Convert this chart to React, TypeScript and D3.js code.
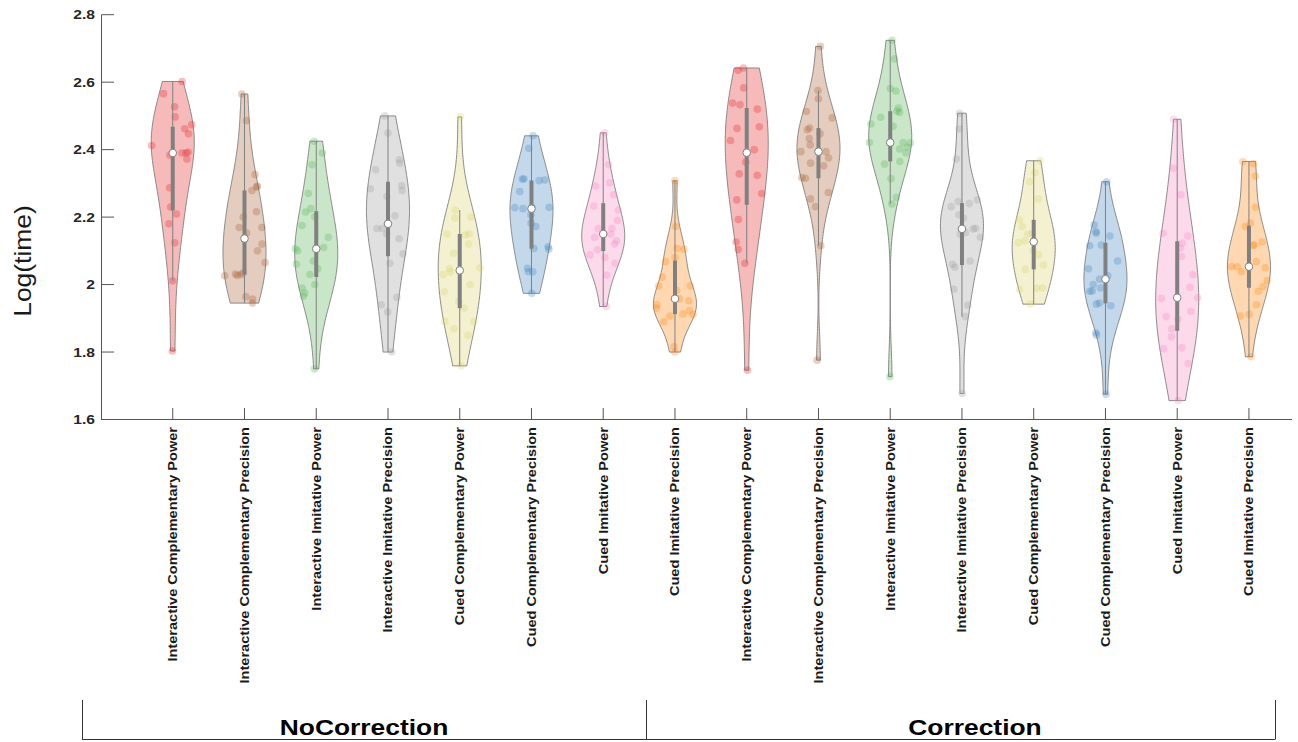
import React from 'react';
import * as d3 from 'd3';

// Condition names, repeated for each correction group along the x axis
const conditions = [
  'Interactive Complementary Power',
  'Interactive Complementary Precision',
  'Interactive Imitative Power',
  'Interactive Imitative Precision',
  'Cued Complementary Power',
  'Cued Complementary Precision',
  'Cued Imitative Power',
  'Cued Imitative Precision',
];
const groupNames = ['NoCorrection', 'Correction'];
const palette = ['#e41a1c', '#a65628', '#4daf4a', '#999999', '#d9d062', '#377eb8', '#f781bf', '#ff7f00'];
const yTickValues = [1.6, 1.8, 2.0, 2.2, 2.4, 2.6, 2.8];

// Log(time) samples, NoCorrection group
const ncIntCompPower = [2.602, 2.566, 2.527, 2.497, 2.474, 2.462, 2.447, 2.412, 2.393, 2.39, 2.39, 2.384, 2.372, 2.287, 2.23, 2.209, 2.18, 2.124, 2.011, 1.803];
const ncIntCompPrecision = [2.565, 2.486, 2.326, 2.292, 2.289, 2.279, 2.216, 2.2, 2.169, 2.169, 2.153, 2.12, 2.1, 2.065, 2.035, 2.031, 2.03, 2.027, 2.026, 1.964, 1.957, 1.945];
const ncIntImitPower = [2.425, 2.39, 2.355, 2.27, 2.225, 2.215, 2.2, 2.175, 2.14, 2.11, 2.106, 2.1, 2.07, 2.06, 2.047, 2.03, 2.0, 1.99, 1.975, 1.965, 1.75];
const ncIntImitPrecision = [2.5, 2.449, 2.37, 2.36, 2.34, 2.293, 2.284, 2.279, 2.261, 2.204, 2.18, 2.166, 2.166, 2.15, 2.136, 2.091, 2.063, 1.962, 1.94, 1.919, 1.8];
const ncCuedCompPower = [2.497, 2.221, 2.2, 2.197, 2.15, 2.15, 2.147, 2.12, 2.093, 2.05, 2.047, 2.037, 2.03, 2.0, 1.979, 1.95, 1.93, 1.89, 1.89, 1.869, 1.85, 1.759];
const ncCuedCompPrecision = [2.441, 2.404, 2.313, 2.313, 2.31, 2.308, 2.276, 2.229, 2.229, 2.228, 2.225, 2.207, 2.182, 2.172, 2.112, 2.107, 2.105, 2.048, 2.038, 2.038, 1.974];
const ncCuedImitPower = [2.45, 2.355, 2.302, 2.292, 2.266, 2.233, 2.221, 2.19, 2.166, 2.166, 2.15, 2.15, 2.14, 2.13, 2.12, 2.08, 2.103, 2.088, 2.063, 2.028, 1.935];
const ncCuedImitPrecision = [2.308, 2.172, 2.107, 2.105, 2.081, 2.068, 2.022, 1.996, 1.996, 1.982, 1.958, 1.952, 1.94, 1.93, 1.923, 1.913, 1.911, 1.907, 1.89, 1.816, 1.8];

// Log(time) samples, Correction group
const cIntCompPower = [2.642, 2.635, 2.583, 2.538, 2.533, 2.52, 2.468, 2.463, 2.427, 2.4, 2.391, 2.363, 2.328, 2.324, 2.27, 2.251, 2.193, 2.126, 2.104, 2.063, 1.746];
const cIntCompPrecision = [2.706, 2.575, 2.551, 2.513, 2.494, 2.464, 2.459, 2.447, 2.433, 2.414, 2.394, 2.394, 2.375, 2.36, 2.352, 2.317, 2.315, 2.273, 2.254, 2.231, 2.115, 1.776];
const cIntImitPower = [2.724, 2.669, 2.581, 2.574, 2.523, 2.514, 2.51, 2.496, 2.476, 2.469, 2.421, 2.421, 2.42, 2.407, 2.402, 2.39, 2.365, 2.357, 2.314, 2.259, 2.239, 1.727];
const cIntImitPrecision = [2.508, 2.461, 2.372, 2.251, 2.246, 2.24, 2.231, 2.207, 2.197, 2.167, 2.165, 2.154, 2.149, 2.14, 2.07, 2.06, 2.051, 1.986, 1.939, 1.905, 1.677];
const cCuedCompPower = [2.367, 2.332, 2.305, 2.254, 2.192, 2.172, 2.152, 2.15, 2.13, 2.124, 2.1, 2.088, 2.058, 2.045, 1.99, 1.989, 1.986, 1.942];
const cCuedCompPrecision = [2.305, 2.177, 2.157, 2.152, 2.144, 2.117, 2.115, 2.07, 2.047, 2.026, 2.016, 2.0, 1.99, 1.981, 1.98, 1.945, 1.942, 1.937, 1.857, 1.85, 1.675];
const cCuedImitPower = [2.49, 2.345, 2.266, 2.152, 2.144, 2.123, 2.108, 2.083, 2.029, 1.992, 1.961, 1.959, 1.921, 1.905, 1.897, 1.869, 1.845, 1.813, 1.81, 1.766, 1.656];
const cCuedImitPrecision = [2.365, 2.358, 2.322, 2.229, 2.182, 2.172, 2.126, 2.118, 2.116, 2.068, 2.053, 2.053, 2.05, 2.038, 2.012, 1.994, 1.98, 1.94, 1.912, 1.907, 1.786];

const noCorrection = [ncIntCompPower, ncIntCompPrecision, ncIntImitPower, ncIntImitPrecision, ncCuedCompPower, ncCuedCompPrecision, ncCuedImitPower, ncCuedImitPrecision];
const correction = [cIntCompPower, cIntCompPrecision, cIntImitPower, cIntImitPrecision, cCuedCompPower, cCuedCompPrecision, cCuedImitPower, cCuedImitPrecision];

const W = 1298;
const H = 742;
const FONT = "'Liberation Sans', Arial, Helvetica, sans-serif";
const VIOLIN_HALF = 0.3; // half width of each violin, in category units
const BW_SCALE = 1.2; // smoothing factor applied to the reference bandwidth
const GRAY = '#808080';
const AXIS = '#555555';

const x = d3.scaleLinear().domain([0, 16.6]).range([101, 1292]);
const y = d3.scaleLinear().domain([1.6, 2.8]).range([419.5, 14.7]);

// quantile with midpoint interpolation (n*p + 0.5)
function quantile(sorted: number[], p: number): number {
  const n = sorted.length;
  const pos = n * p + 0.5;
  if (pos <= 1) return sorted[0];
  if (pos >= n) return sorted[n - 1];
  const lo = Math.floor(pos);
  const f = pos - lo;
  return sorted[lo - 1] + f * (sorted[lo] - sorted[lo - 1]);
}

function gauss(u: number) {
  return Math.exp(-0.5 * u * u) / Math.sqrt(2 * Math.PI);
}

function kde(data: number[], bw: number, v: number) {
  return (d3.sum(data, (d) => gauss((v - d) / bw)) / data.length) / bw;
}

// small seeded generator for horizontal jitter of the dots
function seeded(seed: number) {
  let a = seed >>> 0;
  return () => {
    a = (a + 0x6d2b79f5) | 0;
    let t = Math.imul(a ^ (a >>> 15), 1 | a);
    t = (t + Math.imul(t ^ (t >>> 7), 61 | t)) ^ t;
    return ((t ^ (t >>> 14)) >>> 0) / 4294967296;
  };
}

const samples = [...noCorrection, ...correction];

const violins = samples.map((values, i) => {
  const pos = i + 1;
  const color = palette[i % palette.length];
  const sorted = values.slice().sort(d3.ascending);
  const n = sorted.length;
  const med = quantile(sorted, 0.5);
  const q1 = quantile(sorted, 0.25);
  const q3 = quantile(sorted, 0.75);
  const iqr = q3 - q1;
  const loFence = q1 - 1.5 * iqr;
  const hiFence = q3 + 1.5 * iqr;
  const loWhisker = d3.min(sorted.filter((v) => v >= loFence)) as number;
  const hiWhisker = d3.max(sorted.filter((v) => v <= hiFence)) as number;
  const mad = d3.median(sorted, (v) => Math.abs(v - med)) as number;
  let sig = mad / 0.6745;
  if (!(sig > 0)) sig = sorted[n - 1] - sorted[0];
  const bw = BW_SCALE * sig * Math.pow(4 / (3 * n), 0.2);
  const lo = sorted[0];
  const hi = sorted[n - 1];
  const grid = d3.range(100).map((k) => lo + ((hi - lo) * k) / 99);
  const dens = grid.map((v) => kde(sorted, bw, v));
  const maxD = d3.max(dens) as number;
  const half = (v: number) => (kde(sorted, bw, v) / maxD) * VIOLIN_HALF;

  const outline: [number, number][] = [
    ...grid.map((v, k) => [pos + (dens[k] / maxD) * VIOLIN_HALF, v] as [number, number]),
    ...grid
      .map((v, k) => [pos - (dens[k] / maxD) * VIOLIN_HALF, v] as [number, number])
      .reverse(),
  ];
  const path =
    (d3
      .line<[number, number]>()
      .x((d) => x(d[0]))
      .y((d) => y(d[1]))(outline) as string) + 'Z';

  const rnd = seeded(7919 * (i + 3));
  const dots = values.map((v) => ({ v, dx: (2 * rnd() - 1) * half(v) }));

  return { pos, color, med, q1, q3, loWhisker, hiWhisker, path, dots };
});

const categoryLabels = groupNames.flatMap(() => conditions);

export default function App() {
  return (
    <svg
      width={W}
      height={H}
      viewBox={`0 0 ${W} ${H}`}
      style={{ position: 'absolute', left: 0, top: 0, background: '#ffffff' }}
      fontFamily={FONT}
    >
      <rect x={0} y={0} width={W} height={H} fill="#ffffff" />

      {/* violins */}
      {violins.map((vl, i) => (
        <g key={`v${i}`}>
          <path d={vl.path} fill={vl.color} fillOpacity={0.3} stroke={GRAY} strokeWidth={1} strokeOpacity={0.9} />
          {vl.dots.map((d, j) => (
            <circle key={j} cx={x(vl.pos + d.dx)} cy={y(d.v)} r={3.8} fill={vl.color} fillOpacity={0.28} />
          ))}
          <line x1={x(vl.pos)} x2={x(vl.pos)} y1={y(vl.loWhisker)} y2={y(vl.hiWhisker)} stroke={GRAY} strokeWidth={1} />
          <line x1={x(vl.pos)} x2={x(vl.pos)} y1={y(vl.q1)} y2={y(vl.q3)} stroke={GRAY} strokeWidth={4} />
          <circle cx={x(vl.pos)} cy={y(vl.med)} r={3.8} fill="#ffffff" stroke={GRAY} strokeWidth={1} />
        </g>
      ))}

      {/* y axis */}
      <line x1={101.5} x2={101.5} y1={y(2.8)} y2={y(1.6)} stroke={AXIS} strokeWidth={1} />
      {yTickValues.map((t) => (
        <g key={`yt${t}`}>
          <line x1={101.5} x2={114} y1={y(t)} y2={y(t)} stroke={AXIS} strokeWidth={1} />
          <text
            transform={`translate(95, ${y(t) + 4.6}) scale(1.2, 1)`}
            textAnchor="end"
            fontSize={13}
            fontWeight="bold"
            fill="#262626"
          >
            {String(t)}
          </text>
        </g>
      ))}
      <text
        transform={`translate(31, ${261}) rotate(-90) scale(1.15, 1)`}
        textAnchor="middle"
        fontSize={23}
        fill="#1a1a1a"
      >
        Log(time)
      </text>

      {/* x axis */}
      <line x1={101} x2={1292} y1={419.5} y2={419.5} stroke={AXIS} strokeWidth={1} />
      {violins.map((vl, i) => (
        <g key={`xt${i}`}>
          <line x1={x(vl.pos)} x2={x(vl.pos)} y1={419.5} y2={408} stroke={AXIS} strokeWidth={1} />
          <text
            transform={`translate(${x(vl.pos) + 4.5}, 427) rotate(-90) scale(1.12, 1)`}
            textAnchor="end"
            fontSize={13}
            fontWeight="bold"
            fill="#1a1a1a"
          >
            {categoryLabels[i]}
          </text>
        </g>
      ))}

      {/* group brackets */}
      <g stroke="#333333" strokeWidth={1}>
        <line x1={82} x2={1275} y1={739.5} y2={739.5} />
        <line x1={82.5} x2={82.5} y1={700} y2={739.5} />
        <line x1={646.5} x2={646.5} y1={700} y2={739.5} />
        <line x1={1275.5} x2={1275.5} y1={700} y2={739.5} />
      </g>
      {groupNames.map((g, gi) => (
        <text
          key={g}
          transform={`translate(${gi === 0 ? 364 : 975}, 734.5) scale(1.2, 1)`}
          textAnchor="middle"
          fontSize={22}
          fontWeight="bold"
          fill="#000000"
        >
          {g}
        </text>
      ))}
    </svg>
  );
}
